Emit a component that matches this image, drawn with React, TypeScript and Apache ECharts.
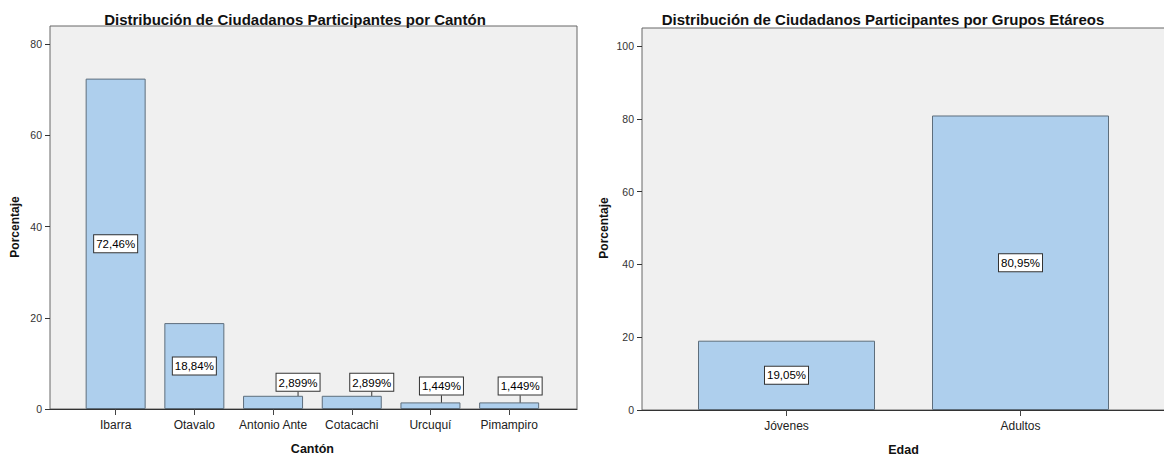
import React, { useEffect, useRef } from "react";
import * as echarts from "echarts";

const cantones = ["Ibarra", "Otavalo", "Antonio Ante", "Cotacachi", "Urcuquí", "Pimampiro"];
const cantonValues = [72.46, 18.84, 2.899, 2.899, 1.449, 1.449];
const edades = ["Jóvenes", "Adultos"];
const edadValues = [19.05, 80.95];
const leftTicks = [0, 20, 40, 60, 80];
const rightTicks = [0, 20, 40, 60, 80, 100];

// label nudges for the small bars (px)
const cantonLabelDx = [0, 0, 25, 20, 11, 11];
const cantonLabelDy = [0, 0, 0, 0, -3, -3];

const FONT = "'Liberation Sans', Arial, sans-serif";
const BAR_FILL = "#aecfed";
const BAR_BORDER = "#5e6e7c";

const fmt = (v: number) => v.toPrecision(4).replace(".", ",") + "%";

const labelBox = {
  show: true,
  formatter: (p: any) => fmt(p.value),
  color: "#000",
  fontFamily: FONT,
  fontSize: 11.5,
  backgroundColor: "#fff",
  borderColor: "#333",
  borderWidth: 1,
  padding: [3, 2, 2, 2],
};

export default function App() {
  const ref = useRef<HTMLDivElement>(null);
  useEffect(() => {
    if (!ref.current) return;
    const chart = echarts.init(ref.current, null, { renderer: "svg" });
    const bgGrid = (left: number, top: number, width: number, height: number) => ({
      left, top, width, height, show: true, outerBoundsMode: "none", containLabel: false,
      backgroundColor: "#f0f0f0", borderColor: "#666", borderWidth: 1,
    });
    const dataGrid = (left: number, top: number, width: number, height: number) => ({
      left, top, width, height, show: false, outerBoundsMode: "none", containLabel: false,
    });
    const catAxis = (grid: number, data: string[], name: string) => ({
      type: "category", gridIndex: grid, data,
      name, nameLocation: "middle", nameGap: 33,
      nameTextStyle: { fontFamily: FONT, fontSize: 12.5, fontWeight: "bold", color: "#111" },
      axisLine: { show: false },
      axisTick: { show: true, alignWithLabel: true, length: 6, lineStyle: { color: "#444" } },
      axisLabel: { fontFamily: FONT, fontSize: 12, color: "#222", margin: 10, interval: 0 },
    });
    const bgXAxis = (grid: number) => ({
      type: "category", gridIndex: grid, data: [""],
      axisLine: { show: true, lineStyle: { color: "#333", width: 1.2 } },
      axisTick: { show: false }, axisLabel: { show: false },
    });
    const visYAxis = (grid: number, max: number, ticks: number[]) => ({
      type: "value", gridIndex: grid, min: 0, max, interval: 20,
      axisLine: { show: false },
      splitLine: { show: false },
      axisTick: { show: true, length: 5, customValues: ticks, lineStyle: { color: "#333" } },
      axisLabel: {
        fontFamily: FONT, fontSize: 10.5, color: "#333", margin: 8,
        customValues: ticks,
      },
    });
    const hidYAxis = (grid: number, max: number) => ({
      type: "value", gridIndex: grid, min: 0, max, show: false,
    });

    chart.setOption({
      animation: false,
      title: [
        {
          text: "Distribución de Ciudadanos Participantes por Cantón",
          left: 290, top: 7, textAlign: "center",
          textStyle: { fontFamily: FONT, fontSize: 15, fontWeight: "bold", color: "#111" },
        },
        {
          text: "Distribución de Ciudadanos Participantes por Grupos Etáreos",
          left: 878, top: 7, textAlign: "center",
          textStyle: { fontFamily: FONT, fontSize: 15, fontWeight: "bold", color: "#111" },
        },
      ],
      grid: [
        bgGrid(50, 26, 527, 383),
        dataGrid(76.3, 26, 472.2, 383),
        bgGrid(642, 28, 530, 382),
        dataGrid(669.5, 28, 468, 382),
      ],
      xAxis: [
        bgXAxis(0),
        catAxis(1, cantones, "Cantón"),
        bgXAxis(2),
        catAxis(3, edades, "Edad"),
      ],
      yAxis: [
        visYAxis(0, 84, leftTicks),
        hidYAxis(1, 84),
        visYAxis(2, 105, rightTicks),
        hidYAxis(3, 105),
      ],
      graphic: [
        {
          type: "text", x: 15, y: 227, rotation: Math.PI / 2,
          style: { text: "Porcentaje", font: `bold 12px ${FONT}`, fill: "#111", textAlign: "center", textVerticalAlign: "middle" },
        },
        {
          type: "text", x: 604, y: 228, rotation: Math.PI / 2,
          style: { text: "Porcentaje", font: `bold 12px ${FONT}`, fill: "#111", textAlign: "center", textVerticalAlign: "middle" },
        },
      ],
      series: [
        {
          type: "bar", xAxisIndex: 1, yAxisIndex: 1, barWidth: 60,
          itemStyle: { color: BAR_FILL, borderColor: BAR_BORDER, borderWidth: 1 },
          data: cantonValues.map((v) => ({
            value: v,
            label: { ...labelBox, position: v > 10 ? "inside" : "top", distance: 5 },
          })),
          labelLine: { show: true, lineStyle: { color: "#333", width: 1 } },
          labelLayout: (p: any) => ({ dx: cantonLabelDx[p.dataIndex], dy: cantonLabelDy[p.dataIndex] }),
        },
        {
          type: "bar", xAxisIndex: 3, yAxisIndex: 3, barWidth: 177,
          itemStyle: { color: BAR_FILL, borderColor: BAR_BORDER, borderWidth: 1 },
          label: { ...labelBox, position: "inside" },
          data: edadValues,
        },
      ],
    });
    return () => chart.dispose();
  }, []);
  return (
    <div
      ref={ref}
      style={{ position: "fixed", left: 0, top: 0, width: 1164, height: 457, background: "#fff" }}
    />
  );
}
